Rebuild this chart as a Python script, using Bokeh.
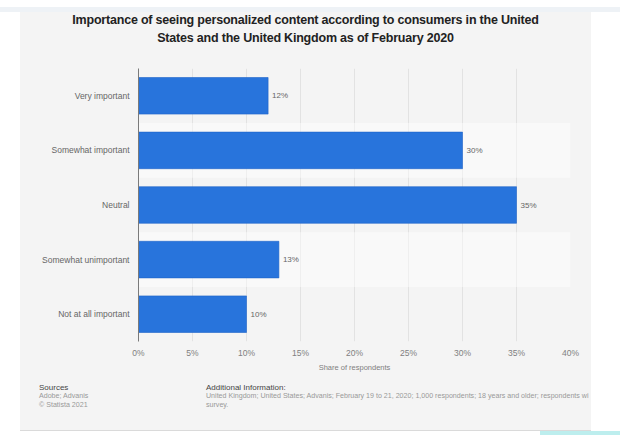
from bokeh.plotting import figure
from bokeh.models import (FactorRange, Range1d, FixedTicker, PrintfTickFormatter,
                          ColumnDataSource, Div, Spacer)
from bokeh.layouts import column, row
from bokeh.embed import file_html
from bokeh.resources import INLINE
from bokeh.core.properties import value

# ---- data ----
categories = ["Very important", "Somewhat important", "Neutral",
              "Somewhat unimportant", "Not at all important"]
shares = [12, 30, 35, 13, 10]
value_labels = ["12%", "30%", "35%", "13%", "10%"]
x_ticks = [0, 5, 10, 15, 20, 25, 30, 35, 40]
x_max = 40

title_lines = ["Importance of seeing personalized content according to consumers in the United",
               "States and the United Kingdom as of February 2020"]
x_axis_title = "Share of respondents"
sources_head = "Sources"
sources_lines = ["Adobe; Advanis", "\u00a9 Statista 2021"]
info_head = "Additional Information:"
info_lines = ["United Kingdom; United States; Advanis; February 19 to 21, 2020; 1,000 respondents; 18 years and older; respondents wi",
              "survey."]

FONT = "Liberation Sans"
PANEL = "#f4f4f4"
PW = 571

# ---- title ----
title_div = Div(
    text="<br>".join(title_lines), width=PW, height=40, margin=0,
    styles={"font-family": FONT, "font-size": "12.5px", "font-weight": "bold",
            "letter-spacing": "-0.2px", "color": "#222222", "text-align": "center",
            "line-height": "17.6px", "background-color": PANEL})

# ---- chart ----
p = figure(width=PW, height=331,
           y_range=FactorRange(factors=categories[::-1]),
           x_range=Range1d(0, x_max),
           output_backend="svg", toolbar_location=None,
           min_border_left=118, min_border_right=21,
           min_border_top=16, min_border_bottom=42,
           background_fill_color=PANEL, border_fill_color=PANEL,
           outline_line_color=None)

band_cats = [categories[1], categories[3]]
p.hbar(y=band_cats, left=0, right=x_max, height=1.0,
       fill_color="white", fill_alpha=0.45, line_color=None)

src = ColumnDataSource(dict(cat=categories, share=shares, lab=value_labels))
p.hbar(y="cat", left=0, right="share", height=0.67, source=src,
       fill_color="#2874dc", line_color="#1e63c8", line_width=0.6)
p.text(x="share", y="cat", text="lab", source=src, x_offset=4,
       text_baseline="middle", text_align="left",
       text_font=value(FONT), text_font_size="8px", text_color="#666666")

p.ygrid.grid_line_color = None
p.xgrid.grid_line_color = "#e2e2e2"
p.xgrid.grid_line_width = 1
p.xgrid.ticker = FixedTicker(ticks=x_ticks)

xa = p.xaxis[0]
xa.ticker = FixedTicker(ticks=x_ticks)
xa.formatter = PrintfTickFormatter(format="%d%%")
xa.axis_line_color = None
xa.major_tick_line_color = None
xa.major_tick_out = 0
xa.major_tick_in = 0
xa.minor_tick_line_color = None
xa.major_label_standoff = 6
xa.major_label_text_font = FONT
xa.major_label_text_font_size = "8.5px"
xa.major_label_text_color = "#808080"
xa.axis_label = x_axis_title
xa.axis_label_standoff = 2
xa.axis_label_text_font = FONT
xa.axis_label_text_font_size = "7.5px"
xa.axis_label_text_font_style = "normal"
xa.axis_label_text_color = "#808080"

ya = p.yaxis[0]
ya.axis_line_color = "#7a7a7a"
ya.axis_line_width = 1
ya.major_tick_line_color = None
ya.major_tick_out = 0
ya.major_tick_in = 0
ya.minor_tick_line_color = None
ya.major_label_standoff = 9
ya.major_label_text_font = FONT
ya.major_label_text_font_size = "8.5px"
ya.major_label_text_color = "#666666"

# ---- footer ----
def block(head, lines):
    return (f"<div style='font-size:8px;color:#444444;line-height:9px'>{head}</div>"
            f"<div style='font-size:7.1px;color:#999999;line-height:9px'>{'<br>'.join(lines)}</div>")

foot_base = {"font-family": FONT, "background-color": PANEL,
             "white-space": "nowrap", "overflow": "hidden",
             "padding-left": "19px", "box-sizing": "border-box",
             "border-bottom": "1px solid #dadada"}
src_div = Div(text=block(sources_head, sources_lines), width=167, height=48,
              margin=0, styles=foot_base)
info_div = Div(text=block(info_head, info_lines), width=PW - 167, height=48,
               margin=0, styles=foot_base)
footer = row(src_div, info_div)

panel = column(title_div, p, footer, margin=(0, 0, 0, 20),
               styles={"background-color": PANEL})
strip = Div(width=620, height=5, margin=(7, 0, 0, 0),
            styles={"background-color": "#eef2f6"})
corner = row(Spacer(width=540, height=4, margin=0),
             Div(width=80, height=4, margin=0, styles={"background-color": "#bdeeee"}))
layout = column(strip, panel, corner)

open("out.html", "w").write(file_html(layout, INLINE))
